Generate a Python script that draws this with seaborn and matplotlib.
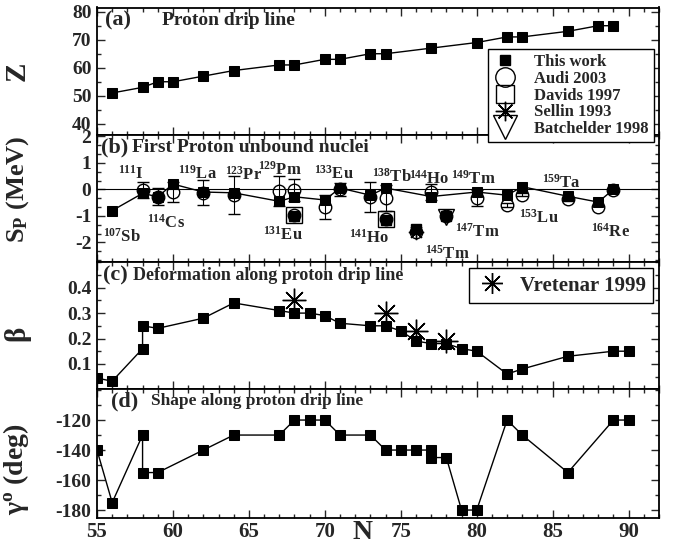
import matplotlib
matplotlib.use("Agg")
import matplotlib.pyplot as plt
import matplotlib.lines as mlines
from matplotlib.ticker import MultipleLocator, AutoMinorLocator, FormatStrFormatter
import seaborn as sns

sns.set_style("ticks")
plt.rcParams['font.family'] = ['Liberation Serif', 'DejaVu Serif']
plt.rcParams['font.weight'] = 'bold'
plt.rcParams['axes.labelweight'] = 'bold'
plt.rcParams['mathtext.fontset'] = 'custom'
plt.rcParams['mathtext.rm'] = 'Liberation Serif:bold'
plt.rcParams['mathtext.it'] = 'Liberation Serif:italic:bold'
plt.rcParams['mathtext.bf'] = 'Liberation Serif:bold'
plt.rcParams['mathtext.default'] = 'rm'
plt.rcParams['axes.unicode_minus'] = False

# (a) proton drip line
drip_n = [56, 58, 59, 60, 62, 64, 67, 68, 70, 71, 73, 74, 77, 80, 82, 83, 86, 88, 89]
drip_z = [51, 53, 55, 55, 57, 59, 61, 61, 63, 63, 65, 65, 67, 69, 71, 71, 73, 75, 75]

# (b) proton separation energy, this work along the drip line
sp_this = [-0.8, -0.15, -0.28, 0.2, -0.1, -0.13, -0.45, -0.28, -0.4, 0.05,
           -0.22, 0.05, -0.27, -0.1, -0.22, 0.1, -0.26, -0.48, 0.0]
# known emitters off the line: 131Eu, 141Ho, 145Tm, 147Tm
emit_n = [68, 74, 76, 78]
emit_sp = [-1.0, -1.15, -1.5, -1.02]

nan = float("nan")
audi_n = [58, 59, 60, 62, 64, 67, 68, 68, 70, 71, 73, 74, 74, 76, 77, 78, 80, 82, 83, 86, 88, 89]
audi_sp = [-0.03, -0.28, -0.09, -0.12, -0.2, -0.06, -0.03, -0.97, -0.67, 0.0, -0.28,
           -0.32, -1.13, -1.6, -0.1, -1.0, -0.33, -0.6, -0.2, -0.38, -0.68, -0.02]
audi_err = [0.3, 0.32, 0.38, 0.47, 0.72, 0.55, 0.42, nan, 0.45, 0.25, 0.57,
            0.5, nan, nan, 0.3, nan, 0.3, 0.08, 0.05, 0.05, nan, nan]

davids_n, davids_sp = [68, 74], [-0.98, -1.13]
sellin_n, sellin_sp = [76], [-1.6]
batch_n, batch_sp = [78], [-1.06]

lab_text = [r"$^{107}$Sb", r"$^{111}$I", r"$^{114}$Cs", r"$^{119}$La", r"$^{123}$Pr",
            r"$^{129}$Pm", r"$^{131}$Eu", r"$^{133}$Eu", r"$^{138}$Tb", r"$^{141}$Ho",
            r"$^{144}$Ho", r"$^{149}$Tm", r"$^{145}$Tm", r"$^{147}$Tm", r"$^{153}$Lu",
            r"$^{159}$Ta", r"$^{164}$Re"]
lab_n = [55.4, 56.4, 58.3, 60.35, 63.4, 65.6, 65.9, 69.3, 73.1, 71.6,
         75.55, 78.3, 76.6, 78.55, 82.8, 84.3, 87.5]
lab_sp = [-1.96, 0.42, -1.44, 0.39, 0.37, 0.55, -1.89, 0.39, 0.29, -2.02,
          0.23, 0.22, -2.6, -1.8, -1.25, 0.08, -1.8]

# (c) deformation
beta_n = [55, 56, 58, 58, 59, 62, 64, 67, 68, 69, 70, 71, 73, 74, 75, 76, 77, 78, 79, 80, 82, 83, 86, 89, 90]
beta = [0.044, 0.032, 0.16, 0.25, 0.24, 0.28, 0.34, 0.31, 0.30, 0.30, 0.29, 0.26, 0.25,
        0.25, 0.23, 0.19, 0.18, 0.18, 0.16, 0.15, 0.06, 0.08, 0.13, 0.15, 0.15]
vret_n = [68, 74, 76, 78]
vret_beta = [0.35, 0.30, 0.23, 0.19]

# (d) shape
gamma_n = [55, 56, 58, 58, 59, 62, 64, 67, 68, 69, 70, 71, 73, 74, 75, 76, 77, 77, 78, 79, 80, 82, 83, 86, 89, 90]
gamma = [-140, -175, -130, -155, -155, -140, -130, -130, -120, -120, -120, -130, -130,
         -140, -140, -140, -140, -145, -145, -180, -180, -120, -130, -155, -120, -120]

STAR = (8, 2, 0)

fig = plt.figure(figsize=(6.77, 5.48), dpi=100)
L, W, H = 97 / 677, 562 / 677, 548


def box(top, bot):
    return [L, 1 - bot / H, W, (bot - top) / H]


ax_a = fig.add_axes(box(7.5, 135))
ax_b = fig.add_axes(box(135, 262.3), sharex=ax_a)
ax_c = fig.add_axes(box(262.3, 389.3), sharex=ax_a)
ax_d = fig.add_axes(box(389.3, 517.7), sharex=ax_a)

line_kw = dict(color="k", marker="s", markersize=7.5, markeredgecolor="k",
               linewidth=1, sort=False, estimator=None)

# (a)
sns.lineplot(x=drip_n, y=drip_z, ax=ax_a, **line_kw)
ax_a.set_ylim(36, 81.5)
ax_a.yaxis.set_major_locator(MultipleLocator(10))
ax_a.yaxis.set_minor_locator(MultipleLocator(5))
ax_a.set_ylabel("Z", fontsize=21)

# (b)
ax_b.axhline(0, color="k", lw=0.8, zorder=1)
ax_b.errorbar(audi_n, audi_sp, yerr=audi_err, fmt="o", ms=9, mfc="none", mec="k",
              mew=1, ecolor="k", elinewidth=0.8, capsize=4, capthick=0.8, zorder=4)
sns.lineplot(x=drip_n, y=sp_this, ax=ax_b, zorder=3, **line_kw)
ax_b.plot(emit_n, emit_sp, ls="none", marker="s", ms=7.5, color="k", zorder=3)
ax_b.plot(davids_n, davids_sp, ls="none", marker="s", ms=11, mfc="none", mec="k", mew=1, zorder=4)
ax_b.plot(sellin_n, sellin_sp, ls="none", marker=STAR, ms=11, mec="k", mew=1, zorder=4)
ax_b.plot(batch_n, batch_sp, ls="none", marker="v", ms=12, mfc="none", mec="k", mew=1, zorder=4)
for t, n, s in zip(lab_text, lab_n, lab_sp):
    ax_b.text(n, s, t, fontsize=12, fontweight="bold", ha="left", va="baseline")
ax_b.set_ylim(-2.75, 2.05)
ax_b.yaxis.set_major_locator(MultipleLocator(1))
ax_b.yaxis.set_minor_locator(AutoMinorLocator(3))
ax_b.set_ylabel("S$_{P}$ (MeV)", fontsize=19)

# (c)
sns.lineplot(x=beta_n, y=beta, ax=ax_c, **line_kw)
ax_c.plot(vret_n, vret_beta, ls="none", marker=STAR, ms=17, mec="k", mew=1, zorder=4)
ax_c.set_ylim(0, 0.50)
ax_c.set_yticks([0.1, 0.2, 0.3, 0.4])
ax_c.yaxis.set_minor_locator(MultipleLocator(0.05))
ax_c.yaxis.set_major_formatter(FormatStrFormatter("%.1f"))
ax_c.set_ylabel("β", fontsize=21)

# (d)
sns.lineplot(x=gamma_n, y=gamma, ax=ax_d, **line_kw)
ax_d.set_ylim(-185.1, -99.5)
ax_d.set_yticks([-180, -160, -140, -120])
ax_d.yaxis.set_minor_locator(MultipleLocator(10))
ax_d.set_ylabel("γ$^{o}$ (deg)", fontsize=20)
ax_d.set_xlabel("N", fontsize=20)

ax_d.set_xlim(55, 92)
ax_d.xaxis.set_major_locator(MultipleLocator(5))
ax_d.xaxis.set_minor_locator(MultipleLocator(1))

titles = [("(a)", 0.014, "Proton drip line", 0.116, 0.90, 14),
          ("(b)", 0.008, "First Proton unbound nuclei", 0.062, 0.905, 14),
          ("(c)", 0.011, "Deformation along proton drip line", 0.064, 0.90, 13),
          ("(d)", 0.025, "Shape along proton drip line", 0.096, 0.905, 12.5)]
label_y = [0.5, 0.57, 0.44, 0.375]
for ax, (tag, tx, ttl, sx, ty, fs), ly in zip([ax_a, ax_b, ax_c, ax_d], titles, label_y):
    ax.text(tx, ty, tag, transform=ax.transAxes, fontsize=16, fontweight="bold",
            ha="left", va="center")
    ax.text(sx, ty, ttl, transform=ax.transAxes, fontsize=fs, fontweight="bold",
            ha="left", va="center")
    ax.tick_params(which="both", direction="in", top=True, right=True, width=1,
                   labelsize=14, pad=4)
    ax.tick_params(which="major", length=6)
    ax.tick_params(which="minor", length=3)
    for sp in ax.spines.values():
        sp.set_linewidth(1.3)
        sp.set_color("k")
    ax.yaxis.set_label_coords(-0.118, ly)
    if ax is not ax_d:
        ax.tick_params(labelbottom=False)
        ax.set_xlabel("")
ax_d.tick_params(axis="x", labelsize=15, pad=3)
ax_d.xaxis.label.set_va("center")
ax_d.xaxis.set_label_coords(0.472, -0.115)

h_this = mlines.Line2D([], [], ls="none", marker="s", ms=7, color="k", label="This work")
h_audi = mlines.Line2D([], [], ls="none", marker="o", ms=14, mfc="none", mec="k", mew=1, label="Audi 2003")
h_dav = mlines.Line2D([], [], ls="none", marker="s", ms=13, mfc="none", mec="k", mew=1, label="Davids 1997")
h_sel = mlines.Line2D([], [], ls="none", marker=STAR, ms=14, mec="k", mew=1, label="Sellin 1993")
h_bat = mlines.Line2D([], [], ls="none", marker="v", ms=17, mfc="none", mec="k", mew=1, label="Batchelder 1998")
leg1 = fig.legend(handles=[h_this, h_audi, h_dav, h_sel, h_bat], loc="upper right",
                  bbox_to_anchor=(654 / 677, 1 - 49 / 548), frameon=True, fancybox=False,
                  edgecolor="k", framealpha=1, prop=dict(size=12, weight="bold"),
                  labelspacing=0.05, handlelength=1.44, handletextpad=1.08,
                  borderpad=0.3, borderaxespad=0)
leg1.get_frame().set_linewidth(1)

h_vret = mlines.Line2D([], [], ls="none", marker=STAR, ms=15, mec="k", mew=1, label="Vretenar 1999")
leg2 = fig.legend(handles=[h_vret], loc="upper right",
                  bbox_to_anchor=(653 / 677, 1 - 268.3 / 548), frameon=True, fancybox=False,
                  edgecolor="k", framealpha=1, prop=dict(size=15, weight="bold"),
                  handlelength=1.5, handletextpad=0.6, borderpad=0.35, borderaxespad=0)
leg2.get_frame().set_linewidth(1)

fig.savefig("out.png", dpi=100)
plt.close(fig)
